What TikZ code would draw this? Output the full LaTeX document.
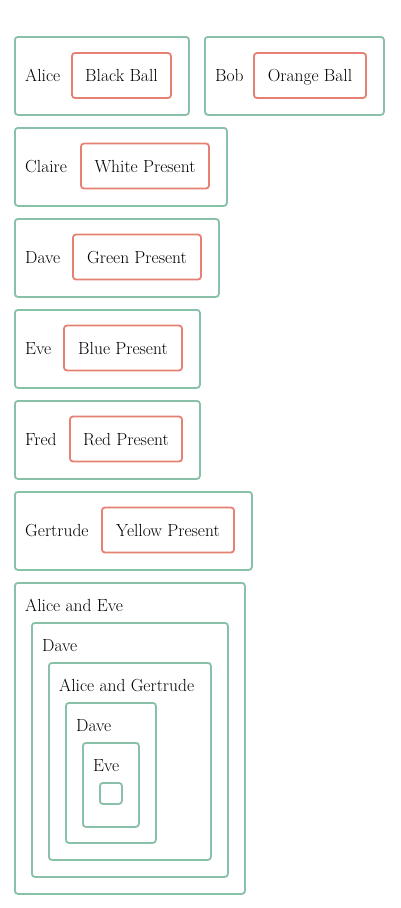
\documentclass[tikz,border=0pt]{standalone}
\usetikzlibrary{positioning}
\definecolor{boxgreen}{RGB}{136,192,168}
\definecolor{giftred}{RGB}{230,128,114}
\tikzset{
  holder/.style={rectangle, draw=boxgreen, line width=1.8pt, rounded corners=3pt, anchor=north west, inner sep=0pt},
  gift/.style={rectangle, draw=giftred, line width=1.8pt, rounded corners=3pt, minimum height=45pt, inner sep=0pt, text height=14pt, text depth=2pt, font=\fontsize{17.5}{21}\selectfont},
  who/.style={anchor=west, inner sep=0pt, text height=14pt, text depth=2pt, font=\fontsize{17.5}{21}\selectfont}
}
\begin{document}
\begin{tikzpicture}[x=1pt, y=-1pt]
\useasboundingbox (0,0) rectangle (400,908);
% gifts
\node[holder, minimum width=174pt, minimum height=78pt] (alicebox) at (14,36) {};
\node[who] (alice) at (25,75) {Alice};
\node[gift, minimum width=99pt] (blackball) at (121.5,75.5) {Black Ball};
\node[holder, minimum width=179pt, minimum height=78pt] (bobbox) at (204,36) {};
\node[who] (bob) at (215,75) {Bob};
\node[gift, minimum width=112pt] (orangeball) at (310,75.5) {Orange Ball};
\node[holder, minimum width=212pt, minimum height=78pt] (clairebox) at (14,127) {};
\node[who] (claire) at (25,166) {Claire};
\node[gift, minimum width=128pt] (whitepresent) at (145,166) {White Present};
\node[holder, minimum width=204pt, minimum height=78pt] (davebox) at (14,218) {};
\node[who] (dave) at (25,257) {Dave};
\node[gift, minimum width=128pt] (greenpresent) at (137,257) {Green Present};
\node[holder, minimum width=185pt, minimum height=78pt] (evebox) at (14,309) {};
\node[who] (eve) at (25,348) {Eve};
\node[gift, minimum width=118pt] (bluepresent) at (123,348) {Blue Present};
\node[holder, minimum width=185pt, minimum height=78pt] (fredbox) at (14,400) {};
\node[who] (fred) at (25,439) {Fred};
\node[gift, minimum width=112pt] (redpresent) at (126,439) {Red Present};
\node[holder, minimum width=237pt, minimum height=78pt] (gertrudebox) at (14,491) {};
\node[who] (gertrude) at (25,530) {Gertrude};
\node[gift, minimum width=132pt] (yellowpresent) at (168,530) {Yellow Present};
% nested
\node[holder, minimum width=230pt, minimum height=311pt] (aebox) at (14,582) {};
\node[who] (ae) at (25,605) {Alice and Eve};
\node[holder, minimum width=196pt, minimum height=254pt] (daveouter) at (31,622) {};
\node[who] (daveone) at (42,645) {Dave};
\node[holder, minimum width=162pt, minimum height=197pt] (agbox) at (48,662) {};
\node[who] (ag) at (59,685) {Alice and Gertrude};
\node[holder, minimum width=90pt, minimum height=140pt] (daveinner) at (65,702) {};
\node[who] (davetwo) at (76,725) {Dave};
\node[holder, minimum width=56pt, minimum height=84pt] (evebox2) at (82,742) {};
\node[who] (evetwo) at (93,765) {Eve};
\node[holder, minimum width=22pt, minimum height=21pt] (empty) at (99,782) {};
\end{tikzpicture}
\end{document}
